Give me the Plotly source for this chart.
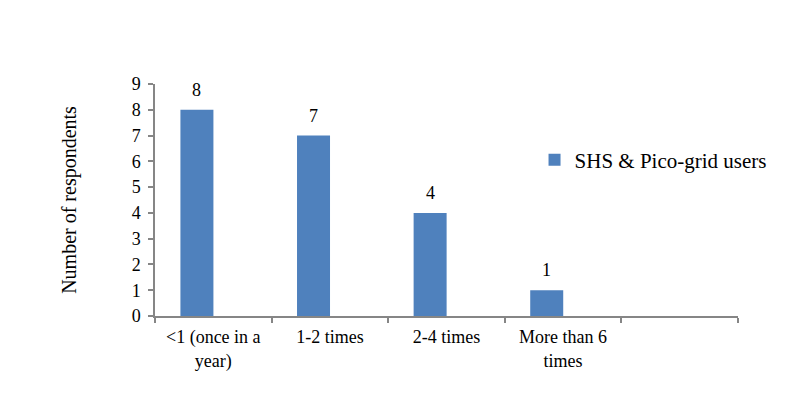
import plotly.graph_objects as go

categories = ["<1 (once in a<br>year)", "1-2 times", "2-4 times", "More than 6<br>times", " "]
values = [8, 7, 4, 1, None]
series_name = "SHS & Pico-grid users"
y_ticks = list(range(0, 10))

BLUE = "#4F81BD"
AXIS = "#868686"
FONT = "Liberation Serif"

fig = go.Figure()
fig.add_trace(go.Bar(
    x=categories, y=values, name=series_name,
    marker=dict(color=BLUE, line=dict(width=0)),
    offset=-0.282, width=0.283,
    showlegend=True,
))

for i, (c, v) in enumerate(zip(categories, values)):
    if v is None:
        continue
    fig.add_annotation(
        x=i, y=v, xref="x", yref="y", text=str(v), showarrow=False,
        xshift=-16.4, yanchor="bottom", yshift=8,
        font=dict(family=FONT, size=18, color="black"),
    )

fig.update_layout(
    width=799, height=396,
    margin=dict(l=155, r=61, t=84, b=80),
    paper_bgcolor="white", plot_bgcolor="white",
    font=dict(family=FONT, size=18, color="black"),
    showlegend=True,
    legend=dict(x=0.651, y=0.672, xanchor="left", yanchor="middle",
                font=dict(family=FONT, size=21, color="black"),
                bgcolor="rgba(0,0,0,0)", itemwidth=30),
)
fig.update_xaxes(
    type="category", range=[-0.5, 4.5], automargin=False,
    showline=True, linecolor=AXIS, linewidth=1.5,
    ticks="outside", tickson="boundaries", ticklen=5, tickcolor=AXIS, tickwidth=1.5,
    ticklabelstandoff=4,
    showgrid=False, zeroline=False,
    tickfont=dict(family=FONT, size=18, color="black"),
)
fig.update_yaxes(
    range=[0, 9], tickvals=y_ticks, automargin=False,
    showline=True, linecolor=AXIS, linewidth=1.5,
    ticks="outside", ticklen=5, tickcolor=AXIS, tickwidth=1.5,
    ticklabelstandoff=4,
    showgrid=False, zeroline=False,
    tickfont=dict(family=FONT, size=18, color="black"),
    title=dict(text="Number of respondents", font=dict(family=FONT, size=20, color="black"), standoff=50),
)

fig.write_html("out.html", config={"displayModeBar": False},
               post_script="document.body.style.margin='0';")
